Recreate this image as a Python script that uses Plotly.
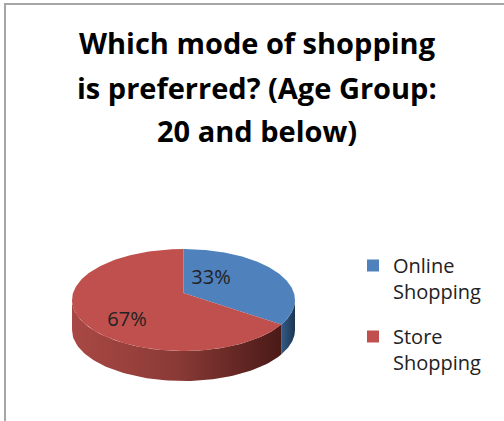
import numpy as np
import plotly.graph_objects as go

# ---- data ----
categories = ["Online Shopping", "Store Shopping"]
legend_labels = ["Online<br>Shopping", "Store<br>Shopping"]
values = [33, 67]
title_lines = ["Which mode of shopping", "is preferred? (Age Group:", "20 and below)"]

# ---- style / layout ----
W, H = 504, 421
top_colors = ["#4F81BD", "#C0504D"]
side_scales = [
    [[0, "#335B88"], [1, "#1C3552"]],
    [[0, "#A94844"], [0.5, "#8A3A36"], [1, "#4A1A17"]],
]
CX, CY, RX, RY, DEPTH = 183.5, 300.0, 111.5, 51.0, 30.0
APEX_DY = -7.0
LABEL_XY = [(211, 279), (127, 321)]
FONT = "Open Sans"

fig = go.Figure()

total = float(sum(values))
starts = np.cumsum([0] + values[:-1]) / total * 360.0
ends = np.cumsum(values) / total * 360.0


def ell(t_deg, dy=0.0):
    t = np.radians(t_deg)
    return CX + RX * np.sin(t), CY - RY * np.cos(t) + dy


# sides (visible front: 90..270 deg clockwise from top)
for i, (a, b) in enumerate(zip(starts, ends)):
    lo, hi = max(a, 90.0), min(b, 270.0)
    if hi <= lo:
        continue
    t = np.linspace(lo, hi, 80)
    xt, yt = ell(t)
    xb, yb = ell(t[::-1], DEPTH)
    xs = np.concatenate([xt, xb, xt[:1]])
    ys = np.concatenate([yt, yb, yt[:1]])
    fig.add_trace(go.Scatter(
        x=xs, y=ys, mode="lines", fill="toself", line=dict(width=0),
        fillgradient=dict(type="horizontal", colorscale=side_scales[i]),
        hoverinfo="skip", showlegend=False))

# top faces
for i, (a, b) in enumerate(zip(starts, ends)):
    t = np.linspace(a, b, 200)
    xt, yt = ell(t)
    xs = np.concatenate([[CX], xt, [CX]])
    ys = np.concatenate([[CY + APEX_DY], yt, [CY + APEX_DY]])
    fig.add_trace(go.Scatter(
        x=xs, y=ys, mode="lines", fill="toself", line=dict(width=0),
        fillcolor=top_colors[i], hoverinfo="skip", showlegend=False,
        name=categories[i]))

# percentage labels
for i, v in enumerate(values):
    fig.add_trace(go.Scatter(
        x=[LABEL_XY[i][0]], y=[LABEL_XY[i][1]], mode="text",
        text=[f"{v}%"], textposition="middle center",
        textfont=dict(family=FONT, size=20, color="#222222"),
        hoverinfo="skip", showlegend=False))

# legend entries
for i, lab in enumerate(legend_labels):
    fig.add_trace(go.Scatter(
        x=[None], y=[None], mode="markers", name=lab,
        legendgroup=f"g{i}",
        marker=dict(symbol="square", size=12, color=top_colors[i]),
        showlegend=True))

# title
title_y = [42, 87, 130]
for line, y in zip(title_lines, title_y):
    fig.add_annotation(x=257, y=y, xref="x", yref="y", text=line,
                       showarrow=False, xanchor="center", yanchor="middle",
                       font=dict(family=FONT, size=29, color="#000000",
                                 weight="bold"))

# border
fig.add_shape(type="rect", x0=5, y0=4, x1=W + 20, y1=H + 20,
              xref="x", yref="y", line=dict(color="#A6A6A6", width=2),
              fillcolor="rgba(0,0,0,0)", layer="below")

fig.update_layout(
    width=W, height=H,
    margin=dict(l=0, r=0, t=0, b=0),
    paper_bgcolor="white", plot_bgcolor="white",
    xaxis=dict(range=[0, W], visible=False, fixedrange=True),
    yaxis=dict(range=[H, 0], visible=False, fixedrange=True),
    showlegend=True,
    legend=dict(x=353 / W, y=1 - 246 / H, xanchor="left", yanchor="top",
                valign="top", traceorder="grouped", tracegroupgap=16,
                font=dict(family=FONT, size=20, color="#222222"),
                bgcolor="rgba(0,0,0,0)", itemclick=False,
                itemdoubleclick=False),
)

fig.write_html("out.html", config={"displayModeBar": False},
               post_script="document.body.style.margin='0';")
